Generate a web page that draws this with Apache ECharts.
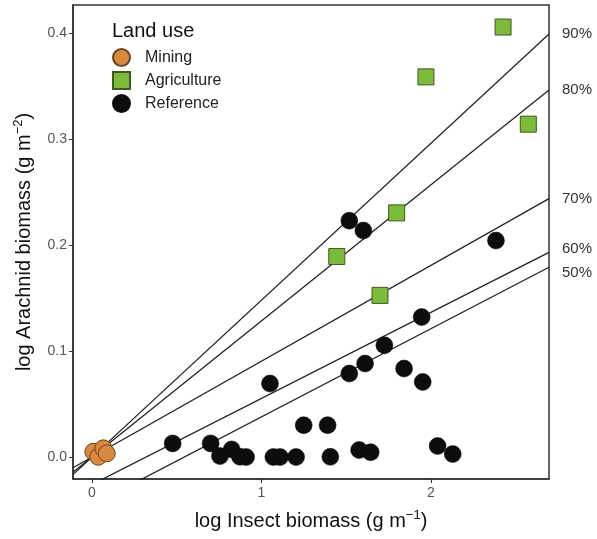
<!DOCTYPE html>
<html>
<head>
<meta charset="utf-8">
<script src="https://cdn.jsdelivr.net/npm/echarts@6/dist/echarts.min.js"></script>
<style>html,body{margin:0;padding:0;background:#fff;}#c{width:597px;height:539px;}</style>
</head>
<body>
<div id="c"></div>
<script>
// ---- data ----
const xTicks = [0, 1, 2];
const yTicks = [0.0, 0.1, 0.2, 0.3, 0.4];
const xMin = -0.112, xMax = 2.696;
const yMin = -0.0207, yMax = 0.4264;

const quantiles = ['90%', '80%', '70%', '60%', '50%'];
const slopes = [0.148, 0.1284, 0.0904, 0.0812, 0.0832];
const intercepts = [0, 0, 0, -0.0259, -0.0453];

const mineX = [0.008, 0.037, 0.067, 0.087];
const mineY = [0.005, 0.0003, 0.0082, 0.0035];

const agriX = [2.425, 1.970, 2.574, 1.797, 1.444, 1.699];
const agriY = [0.4056, 0.3586, 0.314, 0.2303, 0.1892, 0.1525];

const refX = [1.518, 1.601, 2.383, 1.945, 1.725, 1.611, 1.518, 1.841, 1.951, 1.050,
              0.476, 0.700, 0.755, 0.824, 0.873, 0.909, 1.070, 1.109, 1.204, 1.249,
              1.390, 1.406, 1.576, 1.644, 2.039, 2.128];
const refY = [0.223, 0.2136, 0.2042, 0.132, 0.1054, 0.0882, 0.0788, 0.0835, 0.0709, 0.0693,
              0.0129, 0.0129, 0.0009, 0.0072, 0.0003, 0.0, 0.0, 0.0, 0.0, 0.0301,
              0.0301, 0.0002, 0.0066, 0.0046, 0.0104, 0.0028];

// ---- build ----
const FONT = '"Liberation Sans", Arial, Helvetica, sans-serif';
const zip = (a, b) => a.map((v, i) => [v, b[i]]);
const labelDy = [0, 0, 0, -4, 6];

const lineSeries = quantiles.map((q, i) => ({
  name: q,
  type: 'line',
  data: [[xMin, intercepts[i] + slopes[i] * xMin], [xMax, intercepts[i] + slopes[i] * xMax]],
  showSymbol: false,
  symbol: 'none',
  silent: true,
  clip: true,
  z: 2,
  lineStyle: { color: '#222', width: 1.3 },
  endLabel: {
    show: true,
    formatter: q,
    distance: 13,
    offset: [0, labelDy[i]],
    color: '#333',
    fontSize: 15,
    fontFamily: FONT
  }
}));

const chart = echarts.init(document.getElementById('c'), null, { renderer: 'canvas' });
chart.setOption({
  animation: false,
  backgroundColor: '#fff',
  textStyle: { fontFamily: FONT },
  title: {
    text: 'Land use',
    left: 107,
    top: 16,
    textStyle: { fontSize: 20, fontWeight: 'normal', color: '#111', fontFamily: FONT }
  },
  legend: {
    data: ['Mining', 'Agriculture', 'Reference'],
    orient: 'vertical',
    left: 107,
    top: 43,
    itemWidth: 17,
    itemHeight: 17,
    itemGap: 4,
    textStyle: { fontSize: 16, color: '#222', fontFamily: FONT, padding: [0, 0, 0, 10] }
  },
  grid: {
    left: 73, right: 48, top: 5, bottom: 60,
    show: true, borderColor: '#333', borderWidth: 1.5, backgroundColor: '#fff'
  },
  xAxis: {
    type: 'value',
    min: xMin, max: xMax,
    name: 'log Insect biomass (g m{sup|−1})',
    nameLocation: 'middle',
    nameGap: 30,
    nameTextStyle: {
      fontSize: 20, color: '#111', fontFamily: FONT, lineHeight: 24,
      rich: { sup: { fontSize: 13, verticalAlign: 'top', lineHeight: 24, color: '#111', fontFamily: FONT } }
    },
    splitLine: { show: false },
    axisLine: { show: true, onZero: false, lineStyle: { color: '#333', width: 1.5 } },
    axisTick: { show: true, length: 4, customValues: xTicks, lineStyle: { color: '#333' } },
    axisLabel: { customValues: xTicks, fontSize: 14, color: '#555', margin: 7, formatter: v => String(Math.round(v)) }
  },
  yAxis: {
    type: 'value',
    min: yMin, max: yMax,
    name: 'log Arachnid biomass (g m{sup|−2})',
    nameLocation: 'middle',
    nameGap: 37,
    nameRotate: 90,
    nameTextStyle: {
      fontSize: 20, color: '#111', fontFamily: FONT, lineHeight: 24,
      rich: { sup: { fontSize: 13, verticalAlign: 'top', lineHeight: 24, color: '#111', fontFamily: FONT } }
    },
    splitLine: { show: false },
    axisLine: { show: true, onZero: false, lineStyle: { color: '#333', width: 1.5 } },
    axisTick: { show: true, length: 4, customValues: yTicks, lineStyle: { color: '#333' } },
    axisLabel: { customValues: yTicks, fontSize: 14, color: '#555', margin: 6, formatter: v => v.toFixed(1) }
  },
  series: [
    ...lineSeries,
    {
      name: 'Reference', type: 'scatter', data: zip(refX, refY),
      symbol: 'circle', symbolSize: 17, z: 3,
      itemStyle: { color: '#0d0d0d', borderColor: '#0d0d0d', borderWidth: 0.5, opacity: 1 }
    },
    {
      name: 'Agriculture', type: 'scatter', data: zip(agriX, agriY),
      symbol: 'rect', symbolSize: 16, z: 4,
      itemStyle: { color: '#7cba3c', borderColor: '#3f5a22', borderWidth: 1, opacity: 1 }
    },
    {
      name: 'Mining', type: 'scatter', data: zip(mineX, mineY),
      symbol: 'circle', symbolSize: 17, z: 5,
      itemStyle: { color: '#d9893f', borderColor: '#6b4520', borderWidth: 1, opacity: 1 }
    }
  ]
});
</script>
</body>
</html>
